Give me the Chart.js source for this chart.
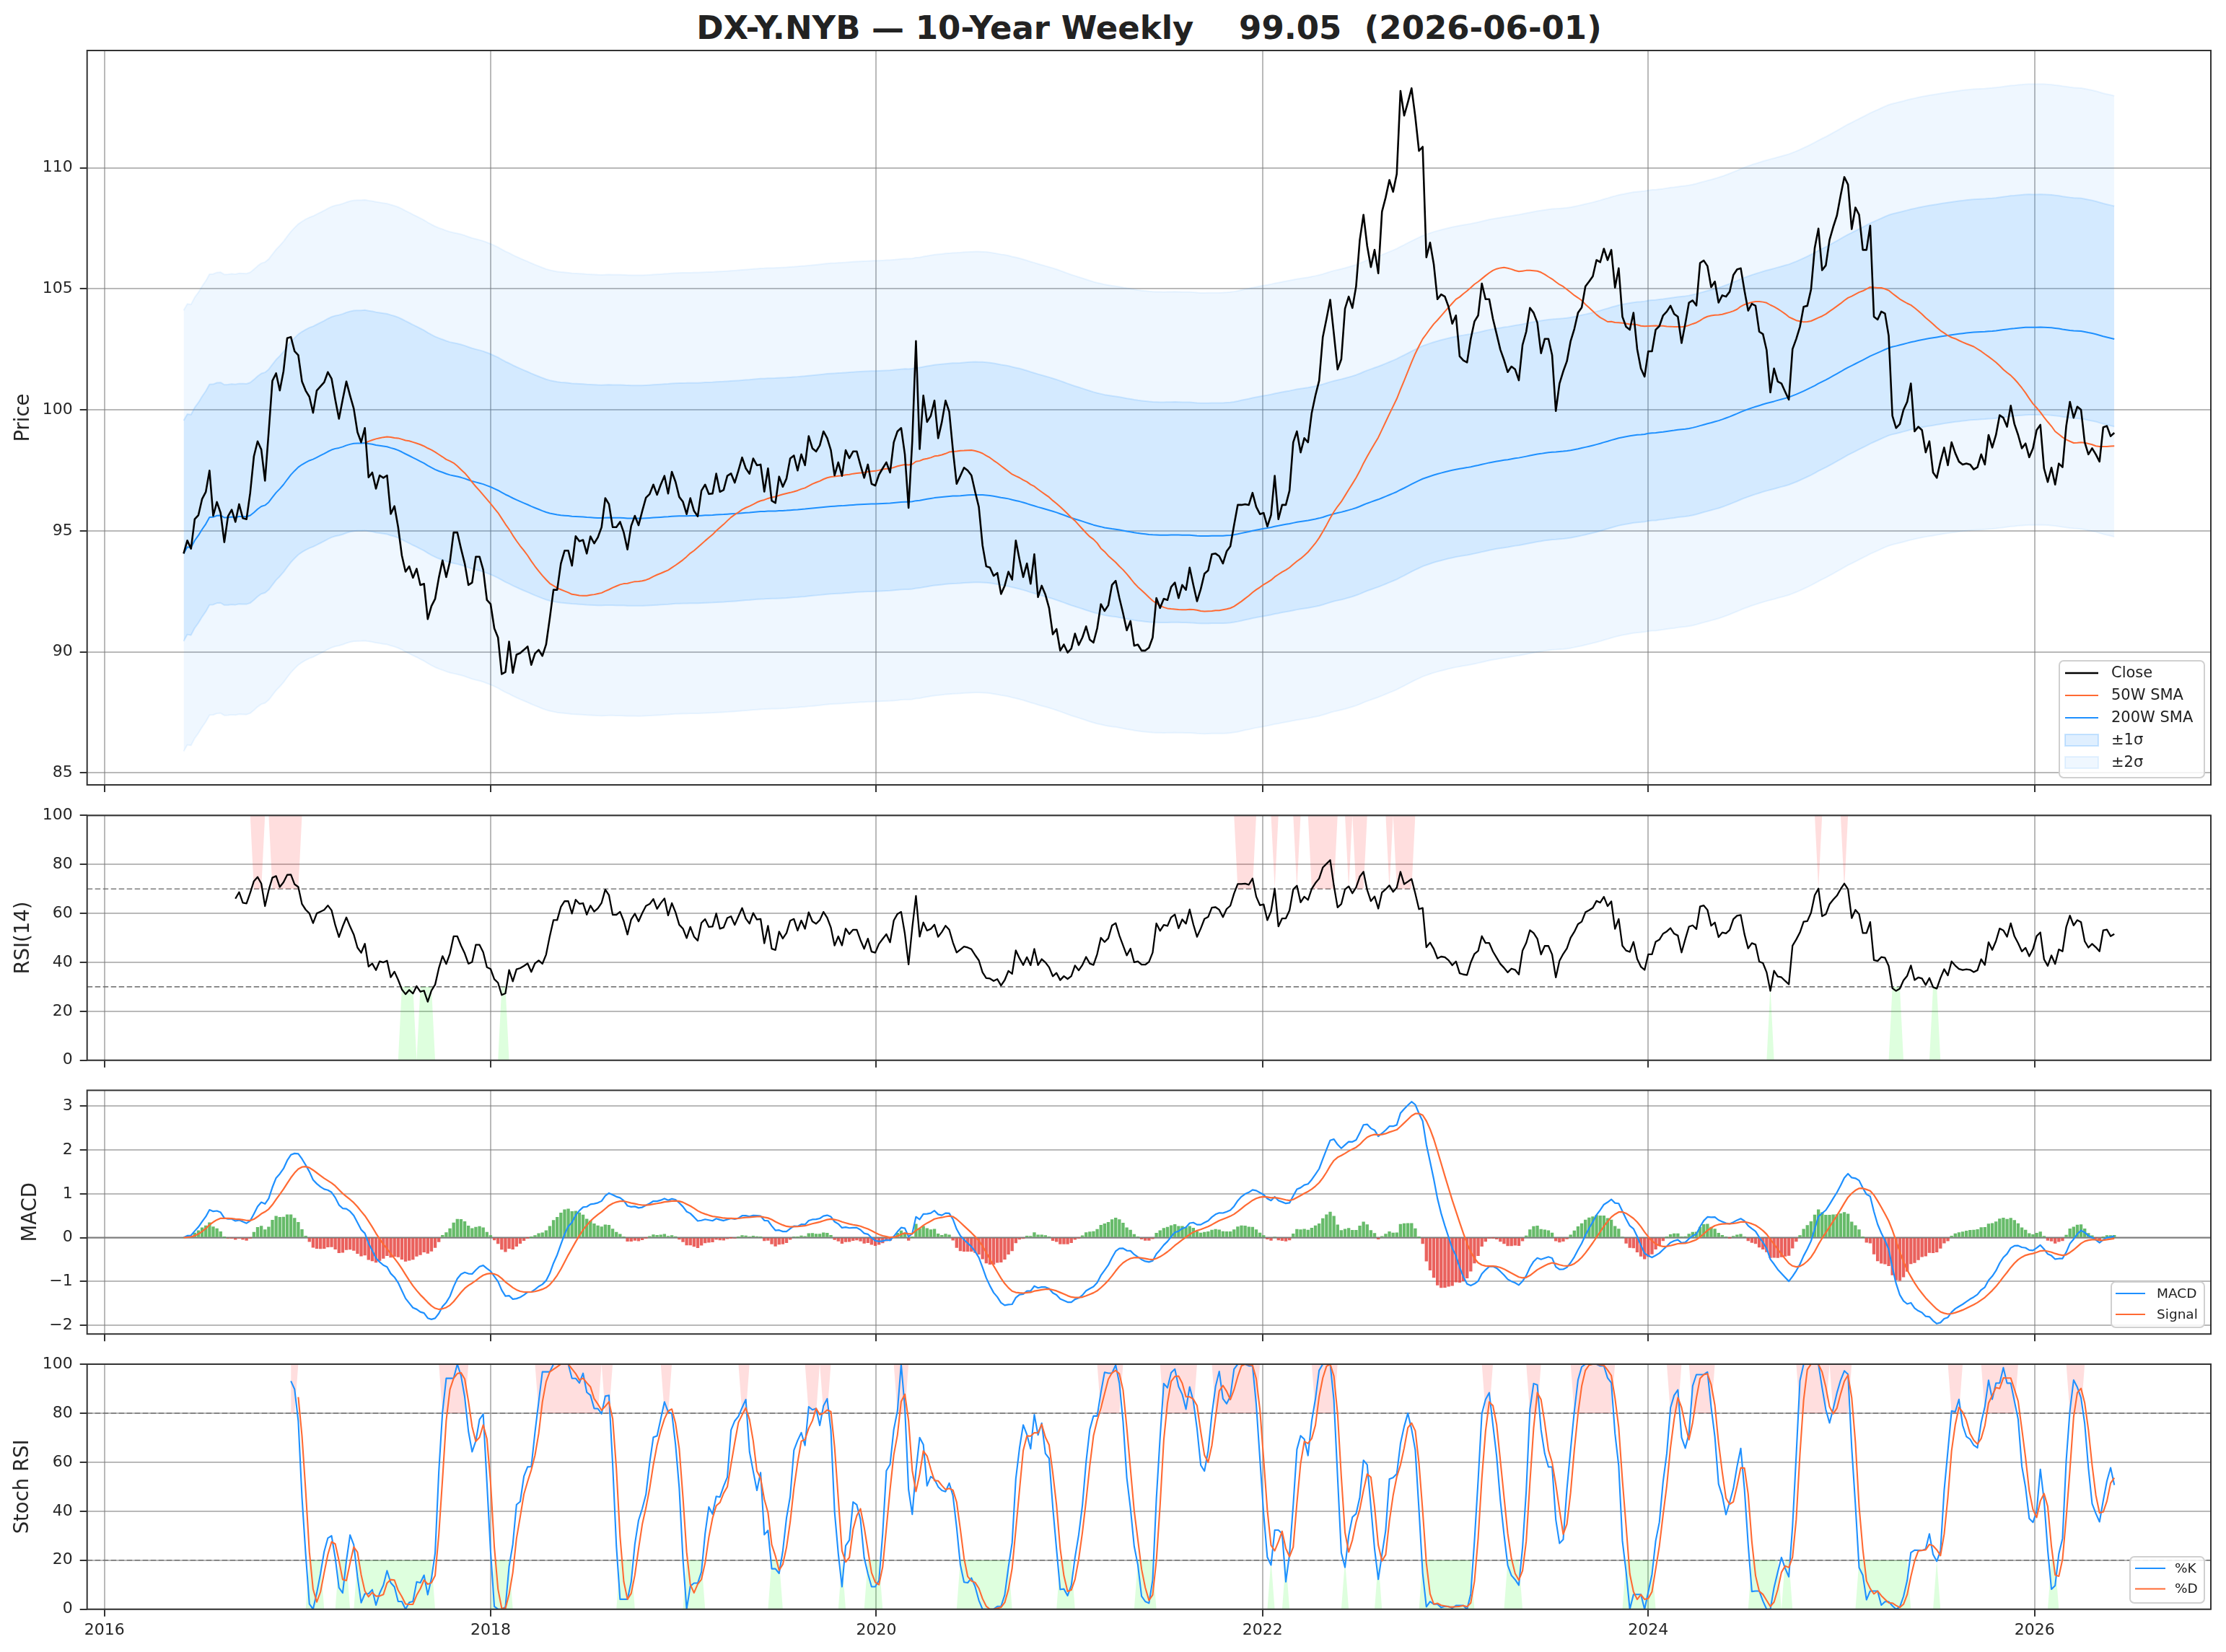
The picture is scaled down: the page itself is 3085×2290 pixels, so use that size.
<!DOCTYPE html>
<html>
<head>
<meta charset="utf-8">
<title>DX-Y.NYB 10-Year Weekly</title>
<script src="https://cdn.jsdelivr.net/npm/chart.js@4.4.1/dist/chart.umd.min.js"></script>
<style>
  html, body { margin:0; padding:0; background:#ffffff; }
  body { width:3085px; height:2290px; position:relative; overflow:hidden; }
  canvas { position:absolute; left:0; }
  #title { position:absolute; left:121px; width:2943px; top:16px; text-align:center; white-space:pre;
           font-family:"DejaVu Sans"; font-weight:bold; font-size:45px; line-height:1; color:#222; }
</style>
</head>
<body>
<div id="title">DX-Y.NYB — 10-Year Weekly    99.05  (2026-06-01)</div>
<script>
// ---------------- data ----------------
const START_DATE = [2016, 5, 30];          // first weekly bar (Y, M, D)
const CLOSE = [
 94.06, 94.60, 94.26, 95.48, 95.65, 96.32, 96.61, 97.49, 95.62, 96.19,
 95.74, 94.53, 95.60, 95.87, 95.37, 96.10, 95.52, 95.48, 96.57, 98.08,
 98.70, 98.36, 97.07, 99.08, 101.20, 101.51, 100.80, 101.59, 102.96, 103.01,
 102.42, 102.26, 101.17, 100.79, 100.54, 99.88, 100.80, 100.97, 101.14, 101.56,
 101.29, 100.42, 99.63, 100.42, 101.17, 100.59, 100.05, 99.08, 98.66, 99.25,
 97.21, 97.41, 96.74, 97.29, 97.19, 97.29, 95.70, 96.02, 95.15, 93.98,
 93.31, 93.53, 93.06, 93.43, 92.76, 92.81, 91.35, 91.89, 92.19, 93.06,
 93.78, 93.09, 93.73, 94.93, 94.93, 94.26, 93.65, 92.76, 92.86, 93.93,
 93.93, 93.39, 92.14, 91.97, 90.97, 90.59, 89.08, 89.16, 90.42, 89.13,
 89.88, 89.95, 90.08, 90.22, 89.46, 89.93, 90.08, 89.83, 90.30, 91.39,
 92.56, 92.56,
 93.65, 94.18, 94.18, 93.56, 94.78, 94.57, 94.62, 94.06, 94.77, 94.48,
 94.73, 95.15, 96.35, 96.10, 95.15, 95.15, 95.37, 94.93, 94.23, 95.20,
 95.62, 95.23, 95.82, 96.37, 96.52, 96.91, 96.49, 96.91, 97.27, 96.54,
 97.44, 97.02, 96.40, 96.20, 95.69, 96.35, 95.82, 95.60, 96.66, 96.91,
 96.52, 96.54, 97.36, 96.61, 96.69, 97.27, 97.37, 96.99, 97.49, 98.03,
 97.58, 97.36, 97.99, 97.71, 97.74, 96.62, 97.58, 96.24, 96.15, 97.24,
 96.82, 97.16, 97.99, 98.11, 97.49, 98.16, 97.71, 98.91, 98.41, 98.28,
 98.53, 99.11, 98.83, 98.33, 97.29, 97.83, 97.27, 98.33, 98.00, 98.28,
 98.28, 97.71, 97.19, 97.74, 96.94, 96.87, 97.32, 97.58, 97.83, 97.41,
 98.66, 99.11, 99.25, 98.16, 95.95, 98.70, 102.84, 98.38, 100.59, 99.50,
 99.75, 100.38, 98.83, 99.50, 100.38, 99.92,
 98.33, 96.94, 97.27, 97.61, 97.49, 97.29, 96.61, 95.99, 94.40, 93.53,
 93.48, 93.14, 93.26, 92.39, 92.73, 93.31, 92.98, 94.60, 93.81, 93.09,
 93.65, 92.81, 94.03, 92.26, 92.73, 92.36, 91.81, 90.72, 90.94, 90.05,
 90.30, 89.97, 90.13, 90.75, 90.28, 90.59, 91.05, 90.50, 90.38, 90.97,
 91.97, 91.69, 91.92, 92.76, 92.93, 92.22, 91.59, 90.89, 91.27, 90.25,
 90.30, 90.05, 90.05, 90.17, 90.59, 92.22, 91.81, 92.19, 92.14, 92.68,
 92.86, 92.22, 92.76, 92.56, 93.48, 92.76, 92.09, 92.59, 93.23, 93.36,
 94.03, 94.06, 93.95, 93.65, 94.15, 94.36, 95.23, 96.07, 96.07, 96.10,
 96.07, 96.57, 95.99, 95.69, 95.74, 95.18, 95.65, 97.27, 95.48, 96.07,
 96.07, 96.66, 98.66, 99.11, 98.24, 98.83, 98.66, 99.87, 100.59, 101.20,
 103.01, 103.76, 104.55, 103.13, 101.67, 102.09,
 104.18, 104.68, 104.21, 105.10, 107.02, 108.06, 106.77, 105.90, 106.61, 105.64,
 108.19, 108.78, 109.50, 109.01, 109.75, 113.18, 112.16, 112.71, 113.29, 112.12,
 110.70, 110.87, 106.30, 106.91, 106.02, 104.57, 104.77, 104.68, 104.26, 103.56,
 103.90, 102.21, 102.04, 101.96, 102.93, 103.65, 103.90, 105.22, 104.57, 104.57,
 103.76, 103.13, 102.49, 102.06, 101.56, 101.79, 101.67, 101.22, 102.68, 103.23,
 104.21, 104.01, 103.60, 102.34, 102.93, 102.93, 102.26, 99.95, 101.09, 101.59,
 102.01, 102.84, 103.34, 104.01, 104.23, 105.10, 105.30, 105.52, 106.19, 106.10,
 106.66, 106.19, 106.61, 105.05, 105.85, 103.85, 103.43, 103.31, 104.01, 102.51,
 101.71, 101.37, 102.42, 102.42, 103.31, 103.46, 103.90, 104.06, 104.30, 103.96,
 103.85, 102.76, 103.56, 104.43, 104.52, 104.31, 106.07, 106.17, 105.94, 105.07,
 105.30,
 104.43, 104.73, 104.68, 104.88, 105.57, 105.80, 105.85, 104.93, 104.10, 104.38,
 104.30, 103.23, 103.13, 102.46, 100.72, 101.71, 101.17, 101.09, 100.75, 100.42,
 102.51, 102.93, 103.43, 104.26, 104.30, 104.97, 106.69, 107.49, 105.77, 105.97,
 107.02, 107.56, 108.03, 108.86, 109.62, 109.31, 107.47, 108.36, 108.06, 106.61,
 106.61, 107.61, 103.85, 103.73, 104.06, 103.98, 103.06, 99.75, 99.25, 99.41,
 100.00, 100.33, 101.09, 99.11, 99.30, 99.16, 98.24, 98.70, 97.41, 97.19,
 97.86, 98.44, 97.71, 98.66, 98.21, 97.86, 97.74, 97.78, 97.74, 97.54,
 97.63, 98.16, 97.74, 98.96, 98.44, 98.96, 99.78, 99.67, 99.30, 100.17,
 99.41, 98.96, 98.41, 98.61, 98.04, 98.41, 99.16, 99.38, 97.58, 97.02,
 97.61, 96.91, 97.78, 97.63, 99.33, 100.33, 99.67, 100.13, 100.00, 98.66,
 98.16, 98.41, 98.16, 97.86, 99.28, 99.33, 98.91, 99.05
];
const X_TICK_YEARS = [2016, 2018, 2020, 2022, 2024, 2026];
const PRICE_TICKS  = [85, 90, 95, 100, 105, 110];
const RSI_TICKS    = [0, 20, 40, 60, 80, 100];
const MACD_TICKS   = [-2, -1, 0, 1, 2, 3];
const STOCH_TICKS  = [0, 20, 40, 60, 80, 100];

// ---------------- indicators (derived from CLOSE) ----------------
const N = CLOSE.length;
const DAY = 86400000;
const T0 = Date.UTC(START_DATE[0], START_DATE[1] - 1, START_DATE[2]);
const DATES = CLOSE.map((_, i) => T0 + i * 7 * DAY);

function sma(arr, n, minP) {
  const out = []; let s = 0;
  for (let i = 0; i < arr.length; i++) {
    s += arr[i]; if (i >= n) s -= arr[i - n];
    const cnt = Math.min(i + 1, n);
    out.push(cnt >= minP ? s / cnt : null);
  }
  return out;
}
function ema(arr, span) {
  const a = 2 / (span + 1); const out = []; let e = arr[0];
  for (let i = 0; i < arr.length; i++) { e = i === 0 ? arr[0] : a * arr[i] + (1 - a) * e; out.push(e); }
  return out;
}
const SMA50 = sma(CLOSE, 50, 50);
const SMA200 = sma(CLOSE, 200, 1);
const DEV = CLOSE.map((c, i) => c - SMA200[i]);
const devMean = DEV.reduce((a, b) => a + b, 0) / N;
const devStd = Math.sqrt(DEV.reduce((a, b) => a + (b - devMean) * (b - devMean), 0) / (N - 1));
const U1 = SMA200.map(v => v + devMean + devStd);
const L1 = SMA200.map(v => v + devMean - devStd);
const U2 = SMA200.map(v => v + devMean + 2 * devStd);
const L2 = SMA200.map(v => v + devMean - 2 * devStd);

const EMA12 = ema(CLOSE, 12), EMA26 = ema(CLOSE, 26);
const MACD = EMA12.map((v, i) => v - EMA26[i]);
const SIGNAL = ema(MACD, 9);
const HIST = MACD.map((v, i) => v - SIGNAL[i]);

const RSI = new Array(N).fill(null);
(function () {
  let ag = 0, al = 0;
  for (let i = 1; i < N; i++) {
    const d = CLOSE[i] - CLOSE[i - 1];
    const g = Math.max(d, 0), l = Math.max(-d, 0);
    if (i === 1) { ag = g; al = l; } else { ag = ag * 13 / 14 + g / 14; al = al * 13 / 14 + l / 14; }
    if (i >= 14) RSI[i] = al === 0 ? 100 : 100 - 100 / (1 + ag / al);
  }
})();
const SRSI = new Array(N).fill(null);
for (let i = 27; i < N; i++) {
  let mn = Infinity, mx = -Infinity;
  for (let j = i - 13; j <= i; j++) { mn = Math.min(mn, RSI[j]); mx = Math.max(mx, RSI[j]); }
  SRSI[i] = mx > mn ? (RSI[i] - mn) / (mx - mn) : null;
}
function roll3(arr, scale) {
  return arr.map((v, i) => (i >= 2 && arr[i] != null && arr[i - 1] != null && arr[i - 2] != null)
    ? (arr[i] + arr[i - 1] + arr[i - 2]) / 3 * scale : null);
}
const STOCH_K = roll3(SRSI, 100);
const STOCH_D = roll3(STOCH_K, 1);

// ---------------- layout / style ----------------
const W = 3085, LEFT = 120.7, RIGHT = 3064;
const BLUE = '#1e90ff', ORANGE = '#ff6a33', GRID = 'rgba(128,128,128,0.55)', TXT = '#262626';
const XMIN = DATES[0] - 0.05 * (DATES[N - 1] - DATES[0]);
const XMAX = DATES[N - 1] + 0.05 * (DATES[N - 1] - DATES[0]);

Chart.defaults.font.family = '"DejaVu Sans"';
Chart.defaults.color = TXT;
Chart.defaults.animation = false;

const pts = arr => DATES.map((x, i) => ({ x, y: arr[i] == null ? null : arr[i] }));
// zone shading: edge value where the condition holds, the outer limit elsewhere (gives matplotlib-like trapezoids)
const zone = (arr, f, onVal, offVal) => DATES.map((x, i) => ({ x, y: arr[i] == null ? null : (f(arr[i]) ? onVal : offVal) }));

const framePlugin = {
  id: 'frame',
  afterDatasetsDraw(chart) {
    const { ctx, chartArea: a } = chart;
    ctx.save(); ctx.strokeStyle = '#333'; ctx.lineWidth = 2;
    ctx.strokeRect(a.left, a.top, a.right - a.left, a.bottom - a.top); ctx.restore();
  }
};
function refLines(lines) {
  return {
    id: 'refLines',
    beforeDatasetsDraw(chart) {
      const { ctx, chartArea: a, scales: { y } } = chart;
      ctx.save();
      lines.forEach(l => {
        const py = y.getPixelForValue(l.v);
        ctx.beginPath(); ctx.setLineDash(l.dash || []); ctx.strokeStyle = l.color; ctx.lineWidth = l.w;
        ctx.moveTo(a.left, py); ctx.lineTo(a.right, py); ctx.stroke();
      });
      ctx.restore();
    }
  };
}
function boxLegend(o, canvasTop) {
  return {
    id: 'boxLegend',
    afterDraw(chart) {
      const ctx = chart.ctx;
      const bx = o.left, by = o.top - canvasTop;
      ctx.save();
      ctx.beginPath();
      if (ctx.roundRect) ctx.roundRect(bx, by, o.width, o.height, 6); else ctx.rect(bx, by, o.width, o.height);
      ctx.fillStyle = 'rgba(255,255,255,0.85)'; ctx.fill();
      ctx.lineWidth = 2; ctx.strokeStyle = '#d0d0d0'; ctx.stroke();
      o.items.forEach((it, k) => {
        const cy = by + o.row0 + k * o.gap;
        const hx = bx + o.handleX;
        if (it.patch) {
          ctx.fillStyle = '#fff'; ctx.fillRect(hx, cy - 8, o.handleLen, 16);
          ctx.fillStyle = it.fill; ctx.fillRect(hx, cy - 8, o.handleLen, 16);
          ctx.strokeStyle = it.stroke; ctx.lineWidth = 2; ctx.strokeRect(hx, cy - 8, o.handleLen, 16);
        } else {
          ctx.beginPath(); ctx.setLineDash([]); ctx.moveTo(hx, cy); ctx.lineTo(hx + o.handleLen, cy);
          ctx.strokeStyle = it.color; ctx.lineWidth = it.width; ctx.stroke();
        }
        ctx.fillStyle = '#222'; ctx.font = o.fontSize + 'px "DejaVu Sans"';
        ctx.textBaseline = 'middle'; ctx.textAlign = 'left';
        ctx.fillText(it.label, bx + o.textX, cy + 1);
      });
      ctx.restore();
    }
  };
}

const PAD = 28;
function makeCanvas(top, bottom, extraBelow) {
  const c = document.createElement('canvas');
  const canvasTop = Math.floor(top) - PAD;
  const canvasBottom = Math.ceil(bottom + extraBelow);
  c.width = W; c.height = canvasBottom - canvasTop;
  c.style.top = canvasTop + 'px';
  document.body.appendChild(c);
  return { c, canvasTop, padTop: top - canvasTop, axisH: canvasBottom - bottom };
}
function xScale(showLabels, axisH) {
  return {
    type: 'linear', min: XMIN, max: XMAX, offset: false,
    afterBuildTicks: s => { s.ticks = X_TICK_YEARS.map(y => ({ value: Date.UTC(y, 0, 1) })); },
    ticks: { display: showLabels, autoSkip: false, maxRotation: 0, font: { size: 22 }, padding: 6, color: TXT,
             callback: v => String(new Date(v).getUTCFullYear()) },
    grid: { color: GRID, lineWidth: 2, drawTicks: true, tickLength: 10, tickColor: '#333', tickWidth: 2, offset: false },
    border: { display: false },
    afterFit: s => { s.height = axisH; }
  };
}
function yScale(min, max, ticks, title, titleCenter, fmt) {
  return {
    type: 'linear', min, max,
    afterBuildTicks: s => { s.ticks = ticks.map(v => ({ value: v })); },
    ticks: { font: { size: 22 }, padding: 10, color: TXT, autoSkip: false, callback: fmt || (v => String(v)) },
    grid: { color: GRID, lineWidth: 2, drawTicks: true, tickLength: 10, tickColor: '#333', tickWidth: 2 },
    border: { display: false },
    title: { display: true, text: title, color: TXT, font: { size: 27.5 }, padding: { top: titleCenter - 16.5, bottom: 0 } },
    afterFit: s => { s.width = LEFT; }
  };
}
function baseOptions(k, xs, ys) {
  return {
    responsive: false, devicePixelRatio: 1, animation: false, events: [],
    layout: { padding: { left: 0, right: W - RIGHT, top: k.padTop, bottom: 0 } },
    elements: { point: { radius: 0 }, line: { tension: 0, borderJoinStyle: 'round', borderCapStyle: 'butt' } },
    plugins: { legend: { display: false }, tooltip: { enabled: false }, title: { display: false } },
    scales: { x: xs, y: ys }
  };
}
const lineDs = (data, color, width, order, extra) => Object.assign({
  type: 'line', data, borderColor: color, borderWidth: width, pointRadius: 0, fill: false, spanGaps: false, order
}, extra || {});
const zoneDs = (data, limit, color, order) => lineDs(data, 'rgba(0,0,0,0)', 0, order, { fill: { value: limit }, backgroundColor: color });

// ---------------- price panel ----------------
(function () {
  const k = makeCanvas(70, 1088, PAD);
  new Chart(k.c, {
    type: 'line',
    data: { datasets: [
      lineDs(pts(CLOSE), '#000000', 2.6, 0),
      lineDs(pts(SMA50), ORANGE, 2, 1),
      lineDs(pts(SMA200), BLUE, 2, 2),
      lineDs(pts(U1), 'rgba(30,144,255,0.16)', 2, 3, { fill: 4, backgroundColor: 'rgba(30,144,255,0.13)' }),
      lineDs(pts(L1), 'rgba(30,144,255,0.16)', 2, 3),
      lineDs(pts(U2), 'rgba(30,144,255,0.08)', 2, 4, { fill: 6, backgroundColor: 'rgba(30,144,255,0.07)' }),
      lineDs(pts(L2), 'rgba(30,144,255,0.08)', 2, 4)
    ] },
    options: baseOptions(k, xScale(false, k.axisH), yScale(84.5, 114.85, PRICE_TICKS, 'Price', 33)),
    plugins: [framePlugin, boxLegend({
      left: 2854, top: 916, width: 201, height: 162, row0: 17, gap: 31, handleX: 8, handleLen: 46, textX: 72, fontSize: 21,
      items: [
        { label: 'Close', color: '#000', width: 2.6 },
        { label: '50W SMA', color: ORANGE, width: 2 },
        { label: '200W SMA', color: BLUE, width: 2 },
        { label: '\u00b11\u03c3', patch: true, fill: 'rgba(30,144,255,0.14)', stroke: 'rgba(30,144,255,0.22)' },
        { label: '\u00b12\u03c3', patch: true, fill: 'rgba(30,144,255,0.07)', stroke: 'rgba(30,144,255,0.10)' }
      ] }, k.canvasTop)]
  });
})();

// ---------------- RSI panel ----------------
(function () {
  const k = makeCanvas(1130.4, 1469.7, PAD);
  new Chart(k.c, {
    type: 'line',
    data: { datasets: [
      lineDs(pts(RSI), '#000000', 2.3, 0),
      zoneDs(zone(RSI, v => v > 70, 70, 100), 100, 'rgba(255,0,0,0.13)', 2),
      zoneDs(zone(RSI, v => v < 30, 30, 0), 0, 'rgba(0,255,0,0.13)', 2)
    ] },
    options: baseOptions(k, xScale(false, k.axisH), yScale(0, 100, RSI_TICKS, 'RSI(14)', 33)),
    plugins: [framePlugin, refLines([
      { v: 70, color: 'rgba(110,110,110,0.9)', w: 1.6, dash: [7.5, 3.5] },
      { v: 30, color: 'rgba(110,110,110,0.9)', w: 1.6, dash: [7.5, 3.5] }
    ])]
  });
})();

// ---------------- MACD panel ----------------
(function () {
  const k = makeCanvas(1511.4, 1849.2, PAD);
  new Chart(k.c, {
    type: 'line',
    data: { datasets: [
      lineDs(pts(MACD), BLUE, 2.2, 1),
      lineDs(pts(SIGNAL), ORANGE, 2.2, 0),
      { type: 'bar', data: pts(HIST), order: 3, barThickness: 3.7,
        backgroundColor: HIST.map(v => v >= 0 ? 'rgba(76,175,80,0.85)' : 'rgba(229,57,53,0.8)'), borderWidth: 0 }
    ] },
    options: baseOptions(k, xScale(false, k.axisH),
      yScale(-2.2, 3.36, MACD_TICKS, 'MACD', 42.7, v => v < 0 ? '\u2212' + Math.abs(v) : String(v))),
    plugins: [framePlugin, refLines([{ v: 0, color: 'rgba(120,120,120,0.9)', w: 2 }]), boxLegend({
      left: 2926, top: 1777, width: 129, height: 63, row0: 16, gap: 29, handleX: 6, handleLen: 41, textX: 63, fontSize: 18.5,
      items: [ { label: 'MACD', color: BLUE, width: 2.2 }, { label: 'Signal', color: ORANGE, width: 2.2 } ] }, k.canvasTop)]
  });
})();

// ---------------- Stoch RSI panel ----------------
(function () {
  const k = makeCanvas(1891, 2230.7, 59);
  new Chart(k.c, {
    type: 'line',
    data: { datasets: [
      lineDs(pts(STOCH_K), BLUE, 2.1, 1),
      lineDs(pts(STOCH_D), ORANGE, 2.1, 0),
      zoneDs(zone(STOCH_K, v => v > 80, 80, 100), 100, 'rgba(255,0,0,0.13)', 3),
      zoneDs(zone(STOCH_K, v => v < 20, 20, 0), 0, 'rgba(0,255,0,0.13)', 3)
    ] },
    options: baseOptions(k, xScale(true, k.axisH), yScale(0, 100, STOCH_TICKS, 'Stoch RSI', 31.5)),
    plugins: [framePlugin, refLines([
      { v: 80, color: 'rgba(110,110,110,0.9)', w: 1.6, dash: [7.5, 3.5] },
      { v: 20, color: 'rgba(110,110,110,0.9)', w: 1.6, dash: [7.5, 3.5] }
    ]), boxLegend({
      left: 2952, top: 2158, width: 103, height: 64, row0: 16, gap: 28.5, handleX: 7, handleLen: 42, textX: 62, fontSize: 18.5,
      items: [ { label: '%K', color: BLUE, width: 2.1 }, { label: '%D', color: ORANGE, width: 2.1 } ] }, k.canvasTop)]
  });
})();
</script>
</body>
</html>
